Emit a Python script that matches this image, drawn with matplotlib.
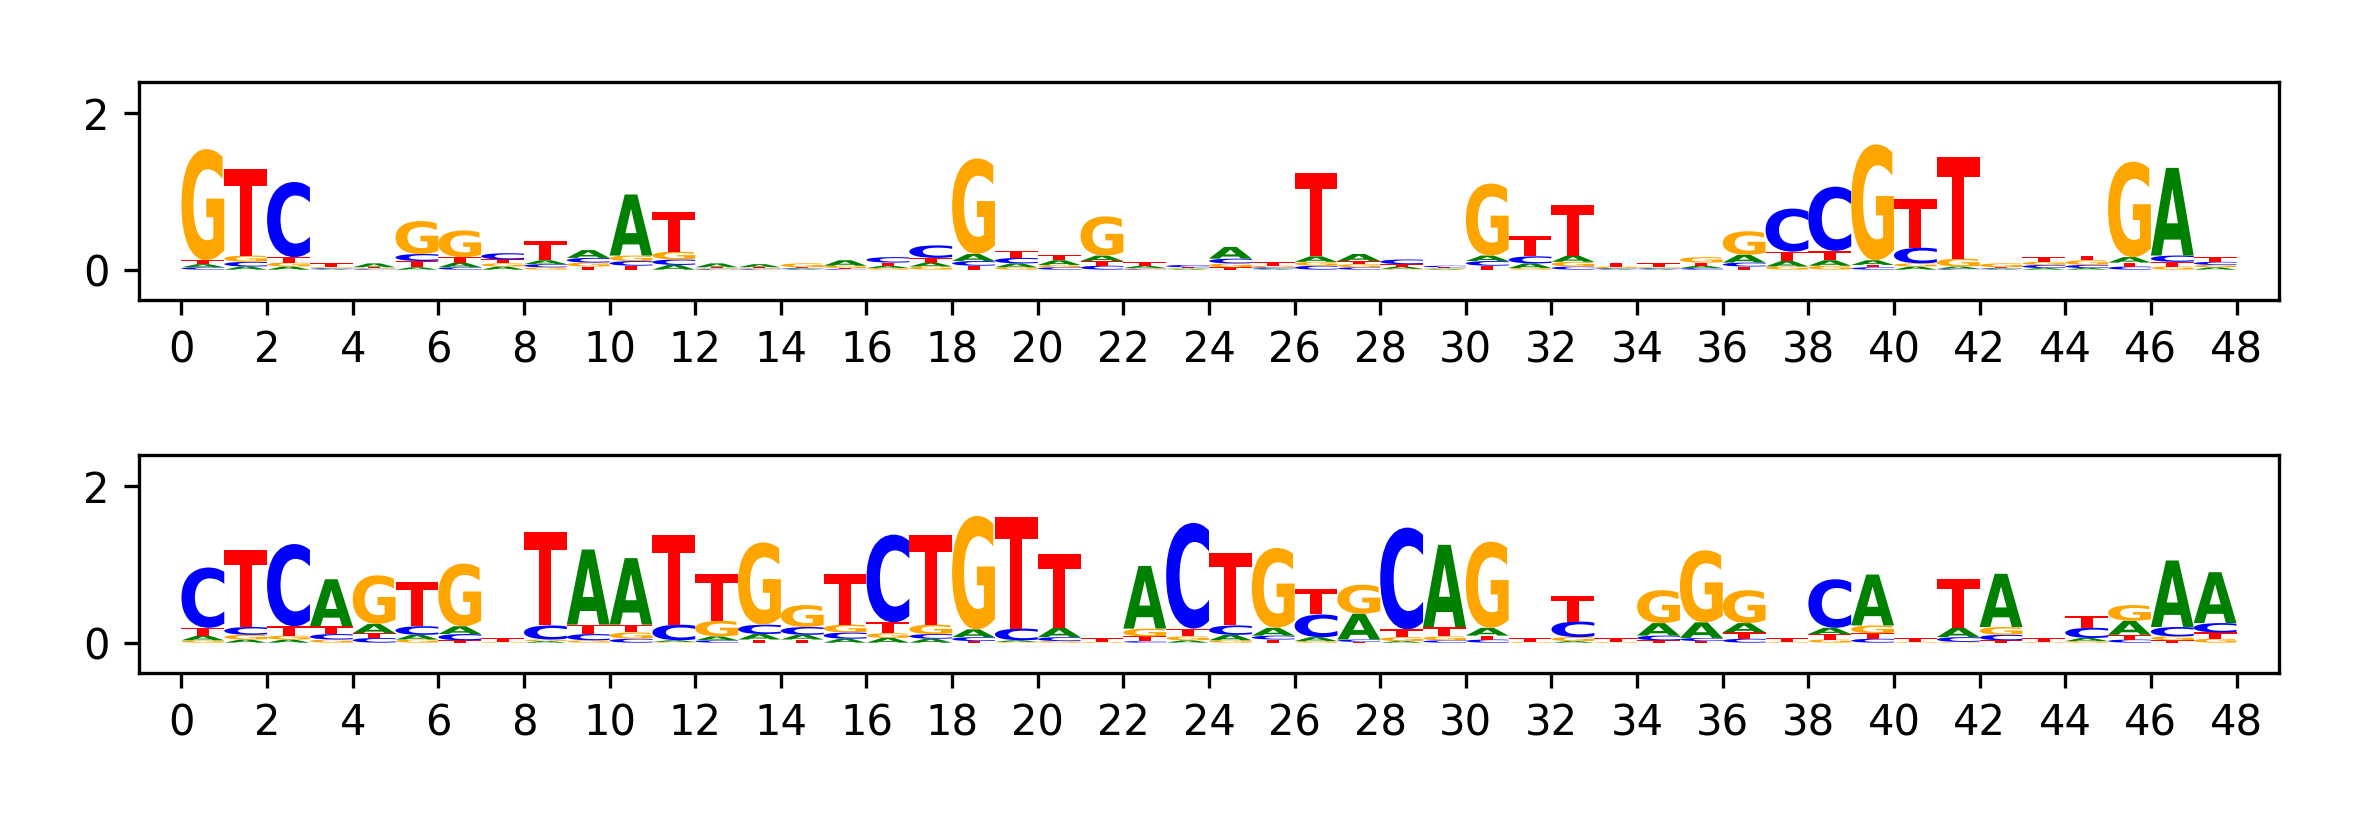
import matplotlib
matplotlib.use('Agg')
import matplotlib.pyplot as plt
import matplotlib.transforms as mtransforms
from matplotlib.textpath import TextPath
from matplotlib.patches import PathPatch
from matplotlib.font_manager import FontProperties

# letter heights (bits) per position, 48 positions per logo
a1 = [0.04, 0.04, 0.04, 0.01, 0.05, 0.03, 0.06, 0.04, 0.05, 0.10, 0.78, 0.06, 0.05, 0.04, 0.01, 0.07,
      0.03, 0.05, 0.09, 0.05, 0.06, 0.07, 0.03, 0.01, 0.15, 0.01, 0.07, 0.09, 0.03, 0.01, 0.07, 0.06,
      0.08, 0.01, 0.01, 0.03, 0.10, 0.07, 0.07, 0.06, 0.04, 0.03, 0.01, 0.02, 0.02, 0.07, 1.12, 0.03]
c1 = [0.03, 0.06, 0.96, 0.01, 0.01, 0.09, 0.03, 0.08, 0.04, 0.06, 0.06, 0.07, 0.01, 0.01, 0.01, 0.01,
      0.07, 0.16, 0.06, 0.07, 0.03, 0.05, 0.01, 0.03, 0.06, 0.02, 0.05, 0.03, 0.06, 0.02, 0.06, 0.09,
      0.04, 0.01, 0.01, 0.02, 0.05, 0.55, 0.82, 0.03, 0.20, 0.01, 0.01, 0.04, 0.04, 0.04, 0.08, 0.04]
g1 = [1.42, 0.08, 0.05, 0.01, 0.01, 0.42, 0.34, 0.04, 0.03, 0.05, 0.07, 0.10, 0.01, 0.01, 0.05, 0.03,
      0.02, 0.04, 1.22, 0.03, 0.03, 0.50, 0.01, 0.01, 0.05, 0.02, 0.05, 0.04, 0.01, 0.01, 0.92, 0.02,
      0.06, 0.02, 0.01, 0.07, 0.30, 0.04, 0.05, 1.48, 0.04, 0.10, 0.05, 0.04, 0.06, 1.22, 0.04, 0.03]
t1 = [0.05, 1.10, 0.07, 0.05, 0.01, 0.08, 0.07, 0.05, 0.24, 0.04, 0.05, 0.51, 0.01, 0.01, 0.01, 0.01,
      0.04, 0.06, 0.05, 0.09, 0.07, 0.06, 0.05, 0.01, 0.03, 0.05, 1.07, 0.04, 0.03, 0.01, 0.05, 0.26,
      0.64, 0.05, 0.05, 0.04, 0.04, 0.12, 0.12, 0.03, 0.62, 1.30, 0.01, 0.06, 0.06, 0.05, 0.06, 0.06]

a2 = [0.06, 0.04, 0.04, 0.60, 0.12, 0.06, 0.10, 0.00, 0.02, 0.96, 0.85, 0.02, 0.05, 0.07, 0.06, 0.05,
      0.06, 0.05, 0.10, 0.02, 0.12, 0.00, 0.80, 0.03, 0.07, 0.10, 0.05, 0.33, 0.02, 1.05, 0.10, 0.00,
      0.02, 0.00, 0.16, 0.20, 0.12, 0.00, 0.08, 0.65, 0.00, 0.12, 0.68, 0.00, 0.04, 0.18, 0.85, 0.65]
c2 = [0.77, 0.10, 1.05, 0.07, 0.06, 0.11, 0.08, 0.00, 0.18, 0.08, 0.05, 0.20, 0.03, 0.12, 0.10, 0.08,
      1.12, 0.06, 0.05, 0.15, 0.05, 0.00, 0.02, 1.35, 0.12, 0.05, 0.29, 0.03, 1.30, 0.03, 0.04, 0.00,
      0.20, 0.00, 0.06, 0.04, 0.05, 0.00, 0.62, 0.05, 0.00, 0.06, 0.07, 0.00, 0.13, 0.04, 0.12, 0.12]
g2 = [0.03, 0.06, 0.05, 0.04, 0.62, 0.04, 0.80, 0.01, 0.02, 0.03, 0.08, 0.01, 0.20, 1.05, 0.28, 0.10,
      0.06, 0.12, 1.45, 0.01, 0.02, 0.01, 0.10, 0.05, 0.03, 1.02, 0.02, 0.37, 0.05, 0.05, 1.10, 0.01,
      0.05, 0.01, 0.42, 0.92, 0.42, 0.01, 0.04, 0.10, 0.01, 0.01, 0.10, 0.01, 0.02, 0.20, 0.05, 0.05]
t2 = [0.10, 0.99, 0.12, 0.10, 0.06, 0.57, 0.03, 0.05, 1.20, 0.12, 0.10, 1.14, 0.60, 0.04, 0.04, 0.65,
      0.14, 1.15, 0.02, 1.42, 0.94, 0.05, 0.06, 0.10, 0.92, 0.04, 0.33, 0.01, 0.10, 0.12, 0.05, 0.05,
      0.33, 0.05, 0.03, 0.02, 0.08, 0.05, 0.07, 0.07, 0.05, 0.62, 0.03, 0.05, 0.15, 0.06, 0.03, 0.08]

letters = ['A', 'C', 'G', 'T']
colors = {'A': 'green', 'C': 'blue', 'G': 'orange', 'T': 'red'}

fp = FontProperties(family='DejaVu Sans', weight='bold')


def draw_letter(ax, ch, x, y, h):
    tp = TextPath((0, 0), ch, size=1, prop=fp)
    ext = tp.get_extents()
    tr = (mtransforms.Affine2D()
          .translate(-ext.x0, -ext.y0)
          .scale(1.0 / ext.width, h / ext.height)
          .translate(x, y))
    ax.add_patch(PathPatch(tr.transform_path(tp), fc=colors[ch], ec='none'))


def draw_logo(ax, cols):
    for i in range(len(cols[0])):
        heights = sorted(zip([c[i] for c in cols], letters))
        bottom = 0
        for h, ch in heights:
            if h <= 0:
                continue
            draw_letter(ax, ch, i, bottom, h)
            bottom += h
    ax.set_xlim(-1, 49)
    ax.set_ylim(-0.39, 2.4)
    ax.set_xticks(range(0, 49, 2))
    ax.set_yticks([0, 2])


fig, axes = plt.subplots(2, 1, figsize=(2362 / 300, 826 / 300), dpi=300)
fig.subplots_adjust(left=0.0587, right=0.965, top=0.901, bottom=0.185, hspace=0.708)

draw_logo(axes[0], [a1, c1, g1, t1])
draw_logo(axes[1], [a2, c2, g2, t2])

fig.savefig('out.png', dpi=300)
